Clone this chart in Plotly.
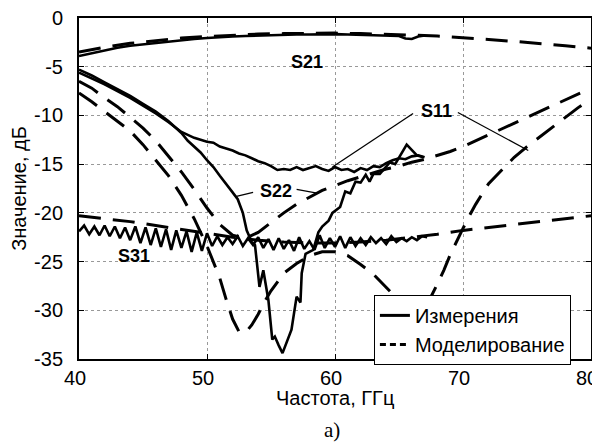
import plotly.graph_objects as go

# ---------------- data ----------------
# S21
s21_meas_f = [40, 41, 42, 43, 44, 45, 46, 47, 48, 49, 50, 51, 52, 53, 54, 55, 56, 57, 58, 59, 60,
              61, 62, 63, 64, 65, 65.5, 66, 66.5, 67]
s21_meas_v = [-3.9, -3.6, -3.3, -3.05, -2.85, -2.7, -2.55, -2.4, -2.25, -2.15, -2.05, -1.95, -1.9,
              -1.85, -1.8, -1.75, -1.75, -1.7, -1.7, -1.65, -1.65, -1.7, -1.75, -1.75, -1.8, -1.85,
              -2.1, -2.15, -1.9, -1.8]
s21_sim_f = [40, 42, 44, 46, 48, 50, 52, 54, 56, 58, 60, 62, 64, 66, 68, 70, 72, 74, 76, 78, 80]
s21_sim_v = [-3.5, -3.0, -2.6, -2.3, -2.05, -1.9, -1.75, -1.65, -1.6, -1.55, -1.55, -1.6, -1.65,
             -1.75, -1.85, -2.0, -2.2, -2.4, -2.6, -2.85, -3.1]

# S11
s11_meas_f = [40, 41, 42, 43, 44, 45, 46, 47, 47.5, 48, 48.5, 49, 49.5, 50, 50.5, 51, 51.5, 52,
              52.5, 53, 53.5, 54, 54.5, 55, 55.5, 56, 56.5, 57, 57.5, 58, 58.5, 59, 59.5, 60,
              60.5, 61, 61.5, 62, 62.5, 63, 63.5, 64, 64.5, 65, 65.5, 66, 66.5, 67]
s11_meas_v = [-5.6, -6.2, -6.8, -7.5, -8.2, -9.0, -9.8, -10.7, -11.2, -11.7, -12.0, -12.3, -12.5,
              -12.7, -12.8, -13.2, -13.4, -13.6, -13.9, -14.1, -14.4, -14.7, -14.9, -15.2, -15.6,
              -15.5, -15.6, -15.3, -15.6, -15.4, -15.2, -15.5, -15.7, -15.3, -15.6, -15.5, -15.8,
              -15.4, -15.6, -15.2, -15.3, -14.9, -14.6, -14.4, -14.5, -14.2, -14.1, -14.3]
s11_sim_f = [40, 41, 42, 43, 44, 45, 46, 47, 48, 49, 50, 50.5, 51, 51.5, 52, 52.5, 53, 53.5, 54,
             54.5, 55, 55.5, 56, 57, 58, 59, 60, 61, 62, 63, 64, 65, 66, 66.5, 67, 67.5, 68,
             68.5, 69, 69.5, 70, 70.5, 71, 72, 73, 74, 75, 76, 77, 78, 79, 80]
s11_sim_v = [-7.7, -8.6, -9.6, -10.6, -11.6, -13.0, -14.6, -16.2, -18.2, -20.6, -23.4, -25.0,
             -26.7, -28.9, -30.9, -32.2, -32.3, -31.5, -30.4, -29.1, -28.0, -27.1, -26.2, -25.2,
             -24.4, -24.0, -24.0, -24.4, -25.3, -26.3, -27.6, -29.0, -30.1, -30.3, -29.6, -28.6,
             -27.3, -25.9, -24.3, -22.9, -21.6, -20.3, -19.1, -17.0, -15.6, -14.3, -13.2, -12.2,
             -11.2, -10.2, -9.2, -8.3]

# S22
s22_meas_f = [40, 41, 42, 43, 44, 45, 46, 47, 47.6, 48, 48.5, 49, 49.5, 50, 50.5, 51, 51.5, 52,
              52.4, 52.8, 53.1, 53.5, 53.75, 54.1, 54.4, 54.8, 55.1, 55.3, 55.6, 55.9, 56.6, 57,
              57.3, 57.4, 57.7, 58.3, 58.7, 59, 59.5, 59.8, 60.4, 60.8, 61.2, 61.6, 62, 62.4,
              62.7, 63, 63.5, 64.3, 64.7, 65.6, 66.4, 66.9]
s22_meas_v = [-5.3, -5.9, -6.6, -7.3, -8.0, -8.8, -9.6, -10.6, -11.3, -11.8, -12.6, -13.2, -13.8,
              -14.6, -15.3, -16.2, -17.0, -17.9, -18.6, -20.0, -21.8, -23.0, -23.3, -27.6, -25.9,
              -29.0, -33.0, -32.7, -33.6, -34.4, -32.0, -28.6, -29.2, -26.2, -24.2, -23.8, -22.0,
              -21.4, -20.8, -20.0, -19.4, -17.8, -18.0, -16.8, -16.9, -16.1, -16.8, -16.0, -16.0,
              -14.8, -15.0, -13.0, -14.1, -14.3]
s22_sim_f = [40, 41, 42, 43, 44, 45, 46, 47, 48, 49, 50, 51, 52, 53, 54, 55, 56, 57, 58, 59, 60,
             61, 62, 63, 64, 65, 66, 67, 68, 69, 70, 71, 72, 73, 74, 75, 76, 77, 78, 79, 80]
s22_sim_v = [-6.5, -7.2, -8.2, -9.1, -10.2, -11.3, -12.6, -14.2, -15.8, -17.6, -19.5, -21.2,
             -22.3, -22.6, -22.0, -21.0, -20.0, -19.1, -18.4, -17.7, -17.2, -16.7, -16.3, -15.9,
             -15.5, -15.2, -14.8, -14.5, -14.1, -13.7, -13.2, -12.6, -12.0, -11.4, -10.8, -10.2,
             -9.6, -9.0, -8.4, -7.8, -7.2]

# S31
s31_meas_f = [40.0, 40.4, 40.8, 41.2, 41.6, 42.0, 42.4, 42.8, 43.2, 43.6, 44.0, 44.4, 44.8, 45.2,
              45.6, 46.0, 46.4, 46.8, 47.2, 47.6, 48.0, 48.4, 48.8, 49.2, 49.6, 50.0, 50.4, 50.8,
              51.2, 51.6, 52.0, 52.4, 52.8, 53.2, 53.6, 54.0, 54.4, 54.8, 55.2, 55.6, 56.0, 56.4,
              56.8, 57.2, 57.6, 58.0, 58.4, 58.8, 59.2, 59.6, 60.0, 60.4, 60.8, 61.2, 61.6, 62.0,
              62.4, 62.8, 63.2, 63.6, 64.0, 64.4, 64.8, 65.2, 65.6, 66.0, 66.4, 66.8, 67.2]
s31_meas_v = [-21.9, -21.3, -22.2, -21.4, -22.3, -21.3, -22.4, -21.4, -22.6, -21.5, -22.8, -21.4,
              -23.1, -21.5, -23.3, -21.6, -23.5, -21.7, -23.8, -21.8, -23.6, -21.9, -24.0, -22.0,
              -23.9, -22.1, -23.4, -22.4, -23.3, -22.5, -23.2, -22.4, -23.4, -22.6, -23.3, -22.5,
              -23.6, -22.7, -23.8, -22.6, -23.7, -22.8, -23.9, -22.5, -23.7, -22.9, -23.8, -22.3,
              -23.6, -22.6, -23.5, -22.4, -23.6, -22.5, -23.4, -22.6, -23.3, -22.5, -23.1, -22.6,
              -23.2, -22.4, -23.0, -22.6, -22.9, -22.5, -22.8, -22.4, -22.5]
s31_sim_f = [40, 42, 44, 46, 48, 50, 52, 54, 56, 58, 60, 62, 64, 66, 68, 70, 72, 74, 76, 78, 80]
s31_sim_v = [-20.3, -20.6, -20.9, -21.3, -21.7, -22.1, -22.5, -22.8, -23.0, -23.1, -23.1, -23.0,
             -22.8, -22.5, -22.2, -21.8, -21.5, -21.2, -20.9, -20.6, -20.3]

x_ticks = [40, 50, 60, 70, 80]
x_tick_labels = ["40", "50", "60", "70", "80"]
y_ticks = [-35, -30, -25, -20, -15, -10, -5, 0]
y_tick_labels = ["-35", "-30", "-25", "-20", "-15", "-10", "-5", "0"]
legend_names = ["Измерения", "Моделирование"]
x_title = "Частота, ГГц"
y_title = "Значение, дБ"
caption = "а)"

# ---------------- styling ----------------
FONT = "Arial, 'Liberation Sans', sans-serif"
DASH = "22px,12px"
fig = go.Figure()

meas = [(s21_meas_f, s21_meas_v), (s11_meas_f, s11_meas_v), (s22_meas_f, s22_meas_v),
        (s31_meas_f, s31_meas_v)]
sims = [(s21_sim_f, s21_sim_v), (s11_sim_f, s11_sim_v), (s22_sim_f, s22_sim_v),
        (s31_sim_f, s31_sim_v)]

for f, v in sims:
    fig.add_trace(go.Scatter(x=f, y=v, mode="lines", showlegend=False,
                             line=dict(color="black", width=3, dash=DASH)))
for f, v in meas:
    fig.add_trace(go.Scatter(x=f, y=v, mode="lines", showlegend=False,
                             line=dict(color="black", width=2.6)))

# legend entries
fig.add_trace(go.Scatter(x=[None], y=[None], mode="lines", name=legend_names[0],
                         line=dict(color="black", width=3)))
fig.add_trace(go.Scatter(x=[None], y=[None], mode="lines", name=legend_names[1],
                         line=dict(color="black", width=3, dash="6px,4px")))

# labels
lab = dict(font=dict(family=FONT, size=18, color="black"), showarrow=False)
fig.add_annotation(x=57.8, y=-4.5, text="<b>S21</b>", **lab)
fig.add_annotation(x=67.9, y=-9.5, text="<b>S11</b>", **lab)
fig.add_annotation(x=55.4, y=-17.8, text="<b>S22</b>", **lab)
fig.add_annotation(x=44.3, y=-24.4, text="<b>S31</b>", **lab)

leaders = [((66.1, -9.8), (59.8, -15.3)), ((69.6, -9.7), (75.1, -13.6)),
           ((53.6, -17.9), (52.3, -18.3)), ((57.0, -17.6), (58.7, -18.0))]
for (x0, y0), (x1, y1) in leaders:
    fig.add_shape(type="line", x0=x0, y0=y0, x1=x1, y1=y1, xref="x", yref="y",
                  line=dict(color="black", width=1.3))

# x-axis title and caption as annotations (precise placement)
fig.add_annotation(x=0.5, y=-0.113, xref="paper", yref="paper", text=x_title,
                   showarrow=False, yanchor="middle",
                   font=dict(family=FONT, size=20, color="black"))
fig.add_annotation(x=0.494, y=-0.208, xref="paper", yref="paper", text=caption,
                   showarrow=False, yanchor="middle",
                   font=dict(family="'Liberation Serif', serif", size=21, color="black"))

axis_common = dict(showline=True, linecolor="black", linewidth=2, mirror="allticks",
                   ticks="inside", ticklen=5, tickwidth=1, tickcolor="black",
                   showgrid=True, gridcolor="#999999", griddash="dot", gridwidth=1,
                   zeroline=False, automargin=False, ticklabeloverflow="allow",
                   tickfont=dict(family=FONT, size=20, color="black"))

fig.update_xaxes(range=[40, 80], tickvals=x_ticks, ticktext=x_tick_labels,
                 ticklabelstandoff=0, ticklabelshift=-4, **axis_common)
fig.update_yaxes(range=[-35, 0], tickvals=y_ticks, ticktext=y_tick_labels,
                 ticklabelstandoff=10,
                 title=dict(text=y_title, font=dict(family=FONT, size=20, color="black"),
                            standoff=2), **axis_common)

# the page body keeps an 8px default margin; size the figure so the page fits the window
fig.update_layout(
    width=592, height=440,
    margin=dict(l=71, r=9, t=10, b=89),
    paper_bgcolor="white", plot_bgcolor="white",
    legend=dict(x=0.576, y=0.188, xanchor="left", yanchor="top",
                bordercolor="black", borderwidth=1, bgcolor="white",
                font=dict(family=FONT, size=20, color="black"),
                tracegroupgap=0, itemwidth=30),
    showlegend=True,
)

fig.write_html("out.html")
